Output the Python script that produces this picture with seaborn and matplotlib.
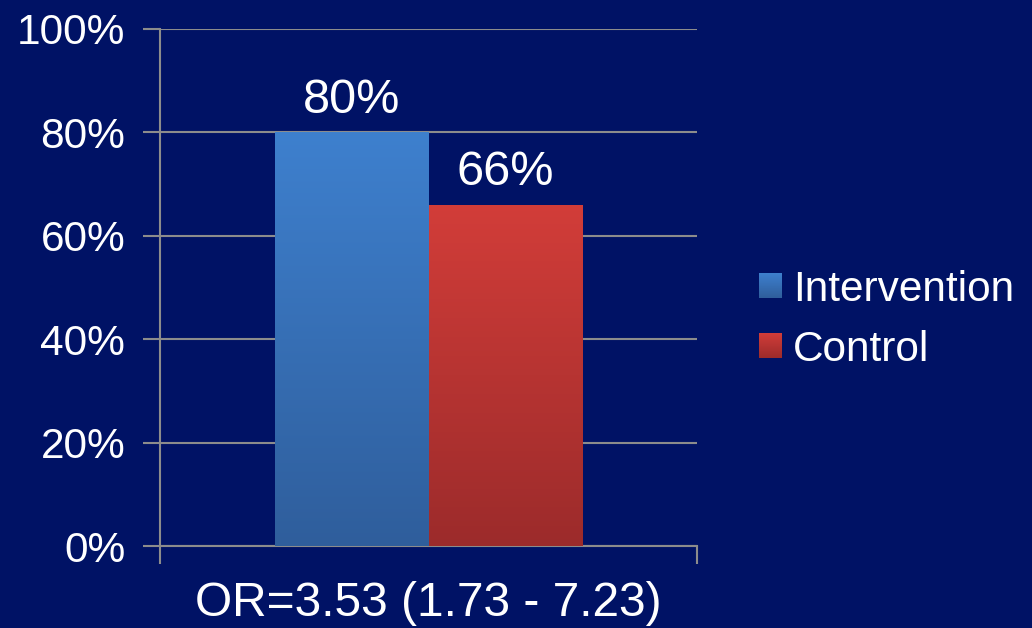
import numpy as np
import pandas as pd
import matplotlib
matplotlib.use("Agg")
import matplotlib.pyplot as plt
import matplotlib.colors as mcolors
from matplotlib.patches import Patch
from matplotlib.legend_handler import HandlerPatch
from matplotlib.image import BboxImage
from matplotlib.transforms import Bbox, TransformedBbox
import seaborn as sns

# ---- data ----
groups = ["Intervention", "Control"]
values = [80, 66]
category = ["OR=3.53 (1.73 - 7.23)"]
yticks = [0, 20, 40, 60, 80, 100]
ytick_labels = ["0%", "20%", "40%", "60%", "80%", "100%"]
bar_labels = ["80%", "66%"]

BG = "#001265"
top_cols = ["#3E80CE", "#D23D39"]
bot_cols = ["#2F5E9C", "#9C2B2B"]

sns.set_theme(style="white")
plt.rcParams["font.family"] = ["Liberation Sans", "DejaVu Sans"]

df = pd.DataFrame({"cat": [category[0]] * len(groups), "group": groups, "value": values})

fig = plt.figure(figsize=(10.32, 6.28), dpi=100, facecolor=BG)
ax = fig.add_axes([160 / 1032, 1 - 546 / 628, (697 - 160) / 1032, (546 - 29) / 628])
ax.set_facecolor(BG)

sns.barplot(data=df, x="cat", y="value", hue="group", hue_order=groups,
            palette=top_cols, width=0.57, saturation=1, ax=ax, legend=False,
            edgecolor="none", linewidth=0, zorder=3)

ax.set_ylim(0, 100)
ax.set_xlim(-0.5, 0.5)

grad = np.linspace(0, 1, 256).reshape(-1, 1)
cmaps = [mcolors.LinearSegmentedColormap.from_list("g%d" % i, [b, t])
         for i, (t, b) in enumerate(zip(top_cols, bot_cols))]

# gradient fill for the bars
patches = [p for p in ax.patches]
for p, cmap in zip(patches, cmaps):
    x0, y0 = p.get_x(), p.get_y()
    w, h = p.get_width(), p.get_height()
    im = ax.imshow(grad, cmap=cmap, origin="lower", aspect="auto",
                   extent=[x0, x0 + w, y0, y0 + h], zorder=3.5)
    im.set_clip_path(p)
    p.set_facecolor("none")
ax.set_xlim(-0.5, 0.5)
ax.set_ylim(0, 100)

for p, lab in zip(patches, bar_labels):
    ax.text(p.get_x() + p.get_width() / 2, p.get_height() + 3.8, lab,
            ha="center", va="baseline", color="white", fontsize=35)

# axes styling
grid_col = "#8C8C8C"
ax.set_yticks(yticks)
ax.set_yticklabels(ytick_labels)
ax.yaxis.grid(True, color=grid_col, linewidth=1.5, zorder=0)
ax.set_axisbelow(True)
ax.tick_params(axis="y", colors=grid_col, labelcolor="white", labelsize=30.5,
               length=12, width=1.5, direction="out", left=True, pad=13)
ax.set_xticks([-0.5, 0.5])
ax.set_xticklabels(["", ""])
ax.tick_params(axis="x", colors=grid_col, length=13, width=1.5, direction="out", bottom=True)
ax.set_xlabel(category[0], color="white", fontsize=34.5, labelpad=9)
ax.set_ylabel("")
for s in ["top", "right"]:
    ax.spines[s].set_visible(False)
for s in ["left", "bottom"]:
    ax.spines[s].set_color(grid_col)
    ax.spines[s].set_linewidth(1.5)


class GradientHandler(HandlerPatch):
    def __init__(self, cmap):
        super().__init__()
        self.cmap = cmap

    def create_artists(self, legend, orig_handle, xdescent, ydescent,
                       width, height, fontsize, trans):
        bb = Bbox.from_bounds(-xdescent, -ydescent, width, height)
        tbb = TransformedBbox(bb, trans)
        img = BboxImage(tbb, cmap=self.cmap, origin="lower", interpolation="bilinear")
        img.set_data(grad)
        return [img]


handles = [Patch(facecolor=tc, edgecolor="none") for tc in top_cols]
leg = fig.legend(handles, groups, loc="center left", bbox_to_anchor=(759 / 1032, 1 - 320 / 628),
                 frameon=False, fontsize=30.5, labelcolor="white",
                 handlelength=0.52, handleheight=0.52, handletextpad=0.29,
                 labelspacing=0.48, borderpad=0, borderaxespad=0,
                 handler_map={handles[0]: GradientHandler(cmaps[0]),
                              handles[1]: GradientHandler(cmaps[1])})

fig.savefig("out.png", dpi=100, facecolor=BG)
